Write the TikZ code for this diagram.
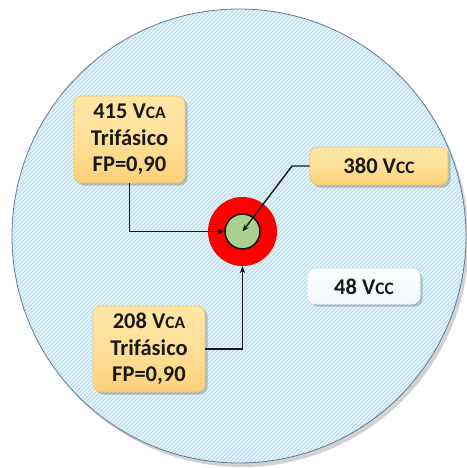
\documentclass[tikz,border=0pt]{standalone}
\usepackage{fontspec}
\setmainfont{Carlito}
\usetikzlibrary{shadows,arrows.meta,shadings}
\definecolor{bgblue}{RGB}{186,222,236}
\definecolor{rimblue}{RGB}{95,125,150}
\definecolor{boxtop}{RGB}{255,230,165}
\definecolor{boxbot}{RGB}{252,208,120}
\definecolor{boxedge}{RGB}{240,196,110}
\definecolor{ringred}{RGB}{255,0,0}
\definecolor{coregreen}{RGB}{169,208,142}
\definecolor{txt}{RGB}{25,25,25}
\newcommand\smcaps[1]{{\fontsize{17.5}{17.5}\selectfont #1}}
\tikzset{
  lbl/.style={rounded corners=8pt, align=center, font=\bfseries\fontsize{22.5}{26.5}\selectfont,
    text=txt, inner sep=0pt,
    drop shadow={shadow xshift=2.5pt, shadow yshift=-2.5pt, opacity=0.35, fill=black!60}},
  warm/.style={lbl, draw=boxedge, line width=0.6pt, top color=boxtop, bottom color=boxbot, middle color=boxtop!70!boxbot},
  cool/.style={lbl, draw=white!90!bgblue, line width=0.6pt, top color=white!95!bgblue, bottom color=white!80!bgblue},
  conn/.style={draw=txt, line width=1.4pt, -{Stealth[length=7pt,width=5.5pt]}}
}
\begin{document}
\begin{tikzpicture}[x=1pt,y=-1pt]
\useasboundingbox (0,0) rectangle (466,468);
% big disc with shadow
\fill[black!35, opacity=0.5] (242,240) circle (227pt);
\fill[bgblue] (239,236) circle (227pt);
\begin{scope}
  \clip (239,236) circle (227pt);
  \foreach \i in {-480,-476,...,480} {
    \draw[white, opacity=0.75, line width=1.3pt] (\i,470) -- (\i+470,0);
  }
\end{scope}
\draw[rimblue, line width=0.8pt] (239,236) circle (227pt);
% centre rings
\node[circle, fill=ringred, minimum size=69pt, inner sep=0pt] (ring) at (242.5,231.5) {};
\node[circle, fill=coregreen, draw=txt, line width=1.6pt, minimum size=35pt, inner sep=0pt] (core) at (242.5,231.5) {};
% boxes
\node[warm, minimum width=111pt, minimum height=87pt] (b415) at (129.5,139.5)
  {415 V\smcaps{CA}\\Trifásico\\FP=0,90};
\node[warm, minimum width=138pt, minimum height=38pt] (b380) at (379,166)
  {380 V\smcaps{CC}};
\node[warm, minimum width=112pt, minimum height=86pt] (b208) at (149,349)
  {208 V\smcaps{CA}\\Trifásico\\FP=0,90};
\node[cool, minimum width=112pt, minimum height=35pt] (b48) at (364,286.5)
  {48 V\smcaps{CC}};
% connectors
\coordinate (k380) at (292,166);
\draw[conn] (b415.south) |- (core.west);
\draw[conn] (b380.west) -- (k380) -- (core.center);
\draw[conn] (b208.east) -| (ring.south);
\end{tikzpicture}
\end{document}
